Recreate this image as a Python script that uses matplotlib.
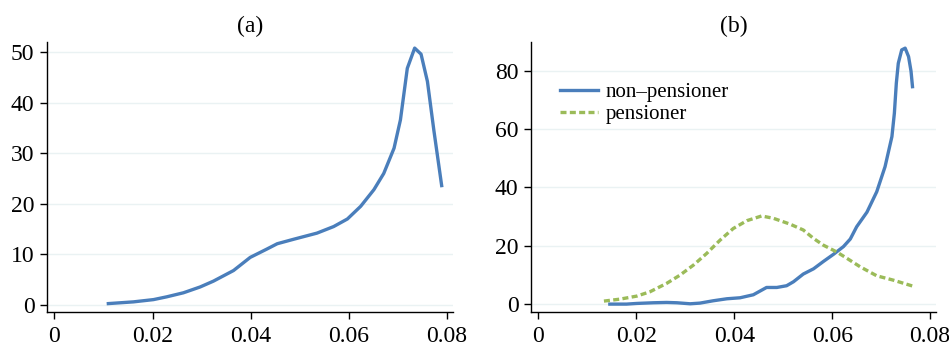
import matplotlib
matplotlib.use("Agg")
import matplotlib.pyplot as plt

# Panel (a)
a_x = [0.0110, 0.0161, 0.0202, 0.0229, 0.0263, 0.0297, 0.0324, 0.0365, 0.0399, 0.0433,
       0.0454, 0.0488, 0.0535, 0.0569, 0.0597, 0.0624, 0.0651, 0.0671, 0.0692, 0.0705,
       0.0719, 0.0734, 0.0747, 0.0760, 0.0773, 0.0789]
a_y = [0.26, 0.6, 1.05, 1.6, 2.4, 3.55, 4.7, 6.8, 9.4, 11.05,
       12.1, 13.0, 14.2, 15.5, 17.0, 19.5, 22.8, 26.0, 31.0, 36.6,
       46.8, 50.8, 49.6, 44.2, 34.6, 23.6]

# Panel (b)
np_x = [0.0146, 0.0180, 0.0201, 0.0235, 0.0262, 0.0283, 0.0310, 0.0330, 0.0357, 0.0385,
        0.0412, 0.0439, 0.0466, 0.0487, 0.0507, 0.0521, 0.0541, 0.0562, 0.0582, 0.0603,
        0.0623, 0.0637, 0.0650, 0.0671, 0.0691, 0.0708, 0.0722, 0.0727, 0.0731, 0.0735,
        0.0742, 0.0749, 0.0756, 0.0761, 0.0764]
np_y = [0.0, 0.0, 0.23, 0.46, 0.57, 0.46, 0.11, 0.34, 1.14, 1.83,
        2.17, 3.2, 5.7, 5.7, 6.3, 7.66, 10.3, 12.1, 14.6, 17.1,
        19.7, 22.3, 26.5, 31.5, 38.5, 47.1, 57.4, 65.4, 75.7, 82.5,
        87.1, 87.7, 84.8, 79.8, 74.5]
p_x = [0.0134, 0.0167, 0.0201, 0.0228, 0.0262, 0.0289, 0.0317, 0.0344, 0.0371, 0.0398,
       0.0426, 0.0456, 0.0480, 0.0514, 0.0541, 0.0562, 0.0582, 0.0609, 0.0630, 0.0657,
       0.0691, 0.0725, 0.0764]
p_y = [1.03, 1.71, 2.74, 4.23, 7.1, 9.9, 13.4, 17.4, 21.9, 25.9,
       28.6, 30.2, 29.4, 27.4, 25.4, 22.5, 20.2, 17.9, 15.7, 12.8,
       9.7, 8.2, 6.2]

xticks = [0, 0.02, 0.04, 0.06, 0.08]
xticklabels = ["0", "0.02", "0.04", "0.06", "0.08"]
a_yticks = [0, 10, 20, 30, 40, 50]
b_yticks = [0, 20, 40, 60, 80]

blue = "#4a7ebb"
green = "#9bbb59"
grid_c = "#eaf2f3"

plt.rcParams['font.family'] = ['Liberation Serif', 'DejaVu Serif']
FS = 17

fig = plt.figure(figsize=(9.49, 3.47), dpi=100)
axa = fig.add_axes([0.0495, 0.1009, 0.4278, 0.778])
axb = fig.add_axes([0.5595, 0.1009, 0.4268, 0.778])

def style(ax, yticks, ylim):
    ax.set_xlim(-0.0015, 0.0812)
    ax.set_ylim(*ylim)
    ax.set_xticks(xticks)
    ax.set_xticklabels(xticklabels)
    ax.set_yticks(yticks)
    for s in ["top", "right"]:
        ax.spines[s].set_visible(False)
    for s in ["left", "bottom"]:
        ax.spines[s].set_linewidth(1.0)
    ax.tick_params(axis='both', direction='out', length=5, width=1, labelsize=FS)
    ax.tick_params(axis='x', pad=5)
    ax.tick_params(axis='y', pad=4)
    ax.grid(axis='y', color=grid_c, linewidth=1.0)
    ax.set_axisbelow(True)

axa.plot(a_x, a_y, color=blue, lw=2.4)
style(axa, a_yticks, (-1.4, 52))
axa.set_title("(a)", fontsize=FS, pad=7)

axb.plot(np_x, np_y, color=blue, lw=2.4, label="non\u2013pensioner")
axb.plot(p_x, p_y, color=green, lw=2.4, ls=(0, (1.8, 1.0)), label="pensioner")
style(axb, b_yticks, (-2.7, 89.8))
axb.set_title("(b)", fontsize=FS, pad=7)
axb.legend(loc="upper left", bbox_to_anchor=(0.05, 0.88), frameon=False,
           fontsize=15, handlelength=1.85, handletextpad=0.35, labelspacing=0.12,
           borderaxespad=0)

fig.savefig("out.png", dpi=100)
